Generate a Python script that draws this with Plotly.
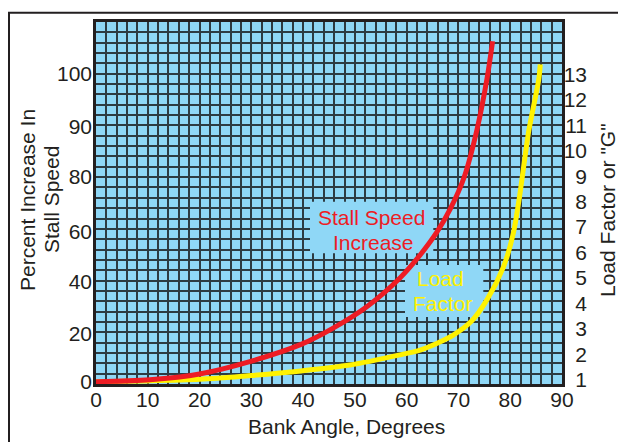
import numpy as np
import plotly.graph_objects as go

# ---------------- data ----------------
bank_angle_ticks = [0, 10, 20, 30, 40, 50, 60, 70, 80, 90]

# Stall speed increase (percent) vs bank angle (degrees)
stall_angle = [0, 10.4, 20, 29.7, 39.6, 45.8, 52.3, 58.7, 62.6, 65.8, 68.4, 71.1, 73.6, 75.5, 76.6]
stall_pct = [0, 0.8, 3.2, 8.3, 15.4, 22, 30.3, 41.5, 50.7, 59.7, 68.2, 79.8, 89.5, 98.9, 106.0]

# Load factor (G) vs bank angle (degrees)
load_angle = [0, 10, 20, 30, 39.6, 49, 58.7, 62.6, 66, 69, 72.5, 75.5, 78.7, 80.6, 81.7, 83.6, 85.5, 85.8]
load_g = [0.93, 0.96, 1.02, 1.17, 1.35, 1.58, 1.98, 2.17, 2.45, 2.76, 3.3, 4.14, 5.44, 6.76, 8.06, 10.8, 12.78, 13.39]

# Right axis (load factor) labels
right_ticks = list(range(1, 14))
# Left axis (percent) labels and where they sit on the load-factor scale
left_tick_pct = [0, 20, 40, 60, 80, 90, 100]
left_tick_pos = [0.928, 2.829, 4.855, 6.819, 8.98, 10.943, 13.041]

# ---------------- geometry helpers ----------------
OFF = 8  # page body margin
W, H = 626 - OFF, 442 - OFF
ML, MR, MT, MB = 96 - OFF, 20, 22 - OFF, 58
PW, PH = W - ML - MR, H - MT - MB
PLOT_W = 466

X_RANGE = [0, 90]
Y_RANGE = [0.8374, 15.0558]
GRID_STEP = (Y_RANGE[1] - Y_RANGE[0]) / 35


def px2x(px):
    return (px - OFF - ML) / PW


def py2y(py):
    return (H - MB - (py - OFF)) / PH


def px2deg(px):
    return X_RANGE[0] + (px - OFF - ML) / PLOT_W * (X_RANGE[1] - X_RANGE[0])


def py2load(py):
    return Y_RANGE[0] + (H - MB - (py - OFF)) / PH * (Y_RANGE[1] - Y_RANGE[0])


BG = "#8fd7f6"
GRID = "#2d3b42"
INK = "#231f20"
RED = "#ED1C24"
YEL = "#FFF200"
FONT = "Liberation Sans, Arial, sans-serif"


def pct_to_pos(p):
    p = np.asarray(p, dtype=float)
    pos = np.interp(p, left_tick_pct, left_tick_pos)
    slope = (left_tick_pos[-1] - left_tick_pos[-2]) / (left_tick_pct[-1] - left_tick_pct[-2])
    hi = p > left_tick_pct[-1]
    pos[hi] = left_tick_pos[-1] + (p[hi] - left_tick_pct[-1]) * slope
    return pos


stall_pos = pct_to_pos(stall_pct)

fig = go.Figure()
fig.add_trace(go.Scatter(x=load_angle, y=load_g, mode="lines",
                         line=dict(color=YEL, width=5, shape="spline", smoothing=0.8),
                         hoverinfo="skip", showlegend=False))
fig.add_trace(go.Scatter(x=stall_angle, y=stall_pos, mode="lines",
                         line=dict(color=RED, width=5, shape="spline", smoothing=0.9),
                         hoverinfo="skip", showlegend=False))

fig.update_layout(
    width=W, height=H,
    margin=dict(l=ML, r=MR, t=MT, b=MB, pad=0),
    paper_bgcolor="white", plot_bgcolor=BG,
    font=dict(family=FONT, size=21, color=INK),
    showlegend=False,
    xaxis=dict(
        domain=[0, PLOT_W / PW], range=X_RANGE, tickmode="array",
        tickvals=bank_angle_ticks, ticktext=[str(v) for v in bank_angle_ticks],
        showgrid=True, gridcolor=GRID, gridwidth=1.5,
        minor=dict(tick0=0, dtick=2, showgrid=True, gridcolor=GRID, gridwidth=1.5),
        showline=True, linecolor=INK, linewidth=2.5, mirror=True,
        ticks="", zeroline=False, automargin=False, ticklabelstandoff=-5,
        tickfont=dict(size=21, color=INK),
    ),
    yaxis=dict(
        range=Y_RANGE, tickmode="linear", tick0=Y_RANGE[0], dtick=GRID_STEP,
        showgrid=True, gridcolor=GRID, gridwidth=1.5, showticklabels=False,
        showline=True, linecolor=INK, linewidth=2.5, mirror=True,
        ticks="", zeroline=False, automargin=False,
    ),
    yaxis2=dict(
        overlaying="y", side="left", range=Y_RANGE, tickmode="array",
        tickvals=left_tick_pos, ticktext=[str(v) for v in left_tick_pct],
        showgrid=False, zeroline=False, showline=False, ticks="",
        automargin=False, ticklabelstandoff=3, tickfont=dict(size=21, color=INK),
    ),
    yaxis3=dict(
        overlaying="y", side="left", anchor="free", position=px2x(587),
        range=Y_RANGE, tickmode="array", tickvals=right_ticks,
        ticktext=[str(v) for v in right_ticks],
        showgrid=False, zeroline=False, showline=False, ticks="",
        automargin=False, tickfont=dict(size=21, color=INK),
    ),
)

# invisible traces to activate the label axes
fig.add_trace(go.Scatter(x=[None], y=[None], yaxis="y2", showlegend=False))
fig.add_trace(go.Scatter(x=[None], y=[None], yaxis="y3", showlegend=False))

shapes = [
    dict(type="rect", xref="paper", yref="paper",
         x0=px2x(9), x1=px2x(660), y0=py2y(480), y1=py2y(12.7),
         line=dict(color=INK, width=2), fillcolor="rgba(0,0,0,0)", layer="above"),
    dict(type="rect", xref="x", yref="y",
         x0=px2deg(310), x1=px2deg(433.3), y0=py2load(253.3), y1=py2load(201.7),
         line=dict(width=0), fillcolor=BG, layer="between"),
    dict(type="rect", xref="x", yref="y",
         x0=px2deg(405), x1=px2deg(483.3), y0=py2load(317), y1=py2load(265),
         line=dict(width=0), fillcolor=BG, layer="between"),
]
fig.update_layout(shapes=shapes)


def ann(text, px, py, color=INK, size=21, angle=0):
    return dict(text=text, xref="paper", yref="paper", x=px2x(px), y=py2y(py),
                xanchor="center", yanchor="middle", showarrow=False,
                textangle=angle, font=dict(family=FONT, size=size, color=color))


fig.update_layout(annotations=[
    ann("Percent Increase In", 27, 200, angle=-90),
    ann("Stall Speed", 51, 200, angle=-90),
    ann("Load Factor or \"G\"", 607, 210, angle=-90),
    ann("Bank Angle, Degrees", 346, 426),
    ann("Stall Speed", 371, 217, color=RED),
    ann("Increase", 373, 242, color=RED),
    ann("Load", 440, 278, color=YEL),
    ann("Factor", 443, 303, color=YEL),
])

fig.write_html("out.html")
